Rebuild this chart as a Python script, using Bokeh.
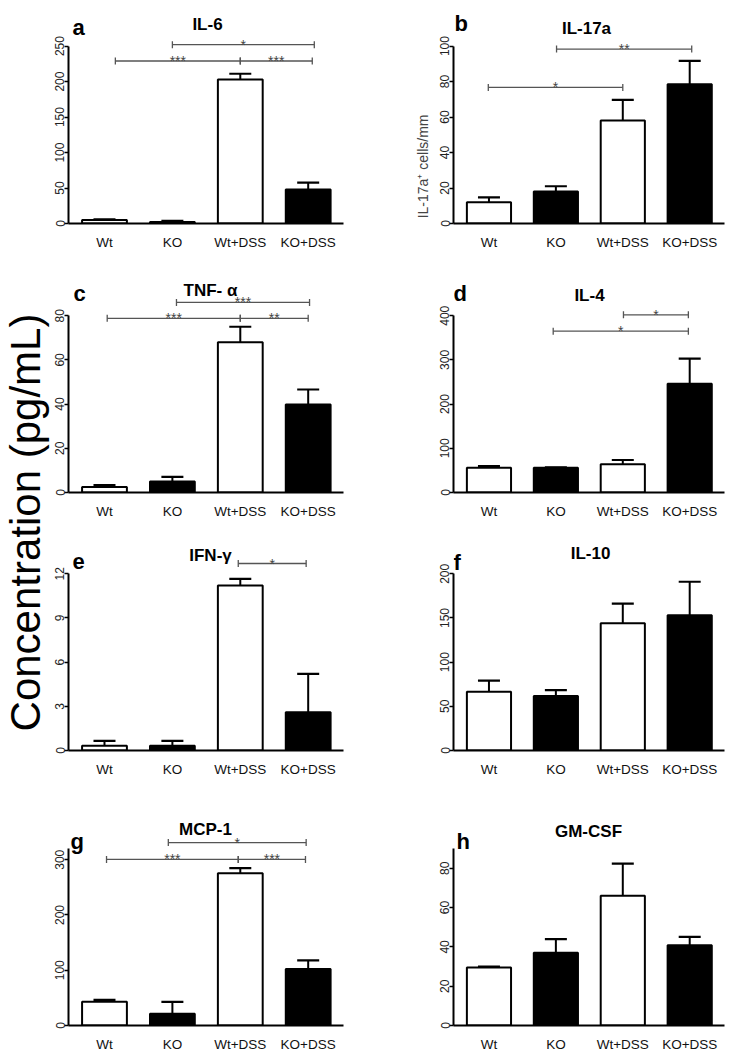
import numpy as np
from bokeh.plotting import figure
from bokeh.layouts import row, column
from bokeh.models import Range1d, FixedTicker, ColumnDataSource
from bokeh.embed import file_html
from bokeh.resources import INLINE
from bokeh.core.properties import value

# ---------------- data ----------------
groups = ["Wt", "KO", "Wt+DSS", "KO+DSS"]
group_x = [1, 2, 3, 4]
group_fill = ["white", "black", "white", "black"]

il6_mean = [5.0, 2.0, 203.0, 48.0]
il6_sem = [1.0, 1.8, 8.0, 9.5]
il6_ticks = [0, 50, 100, 150, 200, 250]
il6_br_x0 = [1.16, 3.0, 2.0]
il6_br_x1 = [3.0, 4.06, 4.09]
il6_br_y = [229, 229, 252]
il6_br_lab = ["***", "***", "*"]

il17_mean = [12.0, 18.0, 58.0, 78.5]
il17_sem = [2.7, 3.0, 11.7, 13.2]
il17_ticks = [0, 20, 40, 60, 80, 100]
il17_br_x0 = [0.99, 2.01]
il17_br_x1 = [3.0, 4.03]
il17_br_y = [76.7, 98.3]
il17_br_lab = ["*", "**"]

tnf_mean = [2.5, 5.0, 68.0, 39.8]
tnf_sem = [0.9, 2.1, 7.0, 6.8]
tnf_ticks = [0, 20, 40, 60, 80]
tnf_br_x0 = [1.04, 3.0, 2.06]
tnf_br_x1 = [3.0, 4.0, 4.02]
tnf_br_y = [78.8, 78.8, 86.0]
tnf_br_lab = ["***", "**", "***"]

il4_mean = [56.0, 56.0, 64.0, 246.0]
il4_sem = [3.5, 1.0, 9.5, 57.0]
il4_ticks = [0, 100, 200, 300, 400]
il4_br_x0 = [1.96, 3.01]
il4_br_x1 = [3.98, 3.98]
il4_br_y = [365, 402]
il4_br_lab = ["*", "*"]

ifn_mean = [0.33, 0.33, 11.2, 2.6]
ifn_sem = [0.32, 0.32, 0.45, 2.6]
ifn_ticks = [0, 3, 6, 9, 12]
ifn_br_x0 = [2.97]
ifn_br_x1 = [3.97]
ifn_br_y = [12.7]
ifn_br_lab = ["*"]

il10_mean = [66.5, 61.7, 144.0, 153.0]
il10_sem = [12.7, 6.7, 22.3, 38.0]
il10_ticks = [0, 50, 100, 150, 200]

mcp_mean = [43.0, 21.4, 275.6, 102.4]
mcp_sem = [3.5, 21.5, 9.0, 15.5]
mcp_ticks = [0, 100, 200, 300]
mcp_br_x0 = [1.03, 2.97, 1.94]
mcp_br_x1 = [2.97, 3.96, 3.97]
mcp_br_y = [300.5, 300.5, 331]
mcp_br_lab = ["***", "***", "*"]

gm_mean = [29.5, 37.0, 66.0, 40.8]
gm_sem = [0.5, 7.0, 16.4, 4.3]
gm_ticks = [0, 20, 40, 60, 80]

# ---------------- style / layout ----------------
FONT = "Liberation Sans"
X_START, X_END = 0.47, 4.52
AXIS_PX = 179
BAR_W = 0.66
CAP_PX = 22
NBSP = "\u00a0"


def make_panel(title, letter, means, sems, ticks, axis_max, br, width, height,
               b_left, b_right, b_bottom, title_pos, letter_pos, ylabel=None):
    frame_w = width - b_left - b_right
    frame_h = height - b_bottom
    ys = AXIS_PX / axis_max
    xs = frame_w / (X_END - X_START)
    y_end = frame_h / ys
    p = figure(width=width, height=height, x_range=Range1d(X_START, X_END),
               y_range=Range1d(0, y_end), output_backend="svg",
               toolbar_location=None, title=None,
               min_border_left=b_left, min_border_right=b_right,
               min_border_top=0, min_border_bottom=b_bottom)
    p.outline_line_color = None
    p.xgrid.grid_line_color = None
    p.ygrid.grid_line_color = None
    p.background_fill_color = "white"
    p.border_fill_color = "white"

    # axes
    p.xaxis.ticker = FixedTicker(ticks=group_x)
    p.xaxis.major_label_overrides = {gx: g for gx, g in zip(group_x, groups)}
    p.xaxis.major_tick_line_color = None
    p.xaxis.minor_tick_line_color = None
    p.xaxis.axis_line_width = 2
    p.xaxis.axis_line_color = "black"
    p.xaxis.major_label_text_font = FONT
    p.xaxis.major_label_text_font_size = "13.5px"
    p.xaxis.major_label_text_color = "#111111"
    p.xaxis.major_label_standoff = 5

    p.yaxis.ticker = FixedTicker(ticks=ticks)
    p.yaxis.bounds = (0, axis_max)
    p.yaxis.minor_tick_line_color = None
    p.yaxis.axis_line_width = 2
    p.yaxis.axis_line_color = "black"
    p.yaxis.major_tick_line_width = 1.5
    p.yaxis.major_tick_out = 4
    p.yaxis.major_tick_in = 0
    p.yaxis.major_label_orientation = "vertical"
    p.yaxis.major_label_standoff = 0
    p.yaxis.major_label_text_font = FONT
    p.yaxis.major_label_text_font_size = "12px"
    p.yaxis.major_label_text_color = "#222222"
    if ylabel:
        p.yaxis.axis_label = ylabel
        p.yaxis.axis_label_text_font = FONT
        p.yaxis.axis_label_text_font_style = "normal"
        p.yaxis.axis_label_text_font_size = "14px"
        p.yaxis.axis_label_standoff = 7

    # bars
    src = ColumnDataSource(dict(x=group_x, top=means, fill=group_fill,
                                err=[m + s for m, s in zip(means, sems)]))
    p.vbar(x="x", top="top", bottom=0, width=BAR_W, fill_color="fill",
           line_color="black", line_width=2, source=src)
    # error bars (upper only)
    cap = CAP_PX / xs / 2
    p.segment(x0="x", y0="top", x1="x", y1="err", line_color="black",
              line_width=2, source=src)
    p.segment(x0=[x - cap for x in group_x], y0=src.data["err"],
              x1=[x + cap for x in group_x], y1=src.data["err"],
              line_color="black", line_width=2.2)

    # significance brackets
    if br is not None:
        x0, x1, yb, lab = br
        p.segment(x0=x0, y0=yb, x1=x1, y1=yb, line_color="#555555", line_width=1.3)
        p.scatter(x=list(x0) + list(x1), y=list(yb) + list(yb), marker="dash",
                  angle=np.pi / 2, size=7, line_color="#555555", line_width=1.3)
        p.text(x=[(a + b) / 2 for a, b in zip(x0, x1)], y=yb, text=lab,
               text_align="center", text_baseline="alphabetic",
               text_font=value(FONT), text_font_size="14px", text_color="#444444")

    # title and panel letter
    tx = X_START + title_pos[0] / xs
    ty = (frame_h - title_pos[1]) / ys
    p.text(x=[tx], y=[ty], text=[title], text_align="center",
           text_baseline="alphabetic", text_font=value(FONT),
           text_font_size="17px", text_font_style="bold", text_color="black")
    lx = X_START + letter_pos[0] / xs
    ly = (frame_h - letter_pos[1]) / ys
    p.text(x=[lx], y=[ly], text=[letter], text_align="left",
           text_baseline="alphabetic", text_font=value(FONT),
           text_font_size="22px", text_font_style="bold", text_color="black")
    return p


LABW = 50
LW, LB_L, LB_R = 358, 18, 65
RW, RB_L, RB_R = 324, 45, 8
ROW_H = [252, 269, 258, 275]
ROW_BB = [27, 26, 26, 26]

pa = make_panel("IL-6", "a", il6_mean, il6_sem, il6_ticks, 250,
                (il6_br_x0, il6_br_x1, il6_br_y, il6_br_lab),
                LW, ROW_H[0], LB_L, LB_R, ROW_BB[0], (139, 24), (4, 27))
pb = make_panel("IL-17a", "b", il17_mean, il17_sem, il17_ticks, 100,
                (il17_br_x0, il17_br_x1, il17_br_y, il17_br_lab),
                RW, ROW_H[0], RB_L, RB_R, ROW_BB[0], (133, 28), (1, 23),
                ylabel="IL-17a\u207a cells/mm" + NBSP * 28)
pc = make_panel("TNF- \u03b1", "c", tnf_mean, tnf_sem, tnf_ticks, 80,
                (tnf_br_x0, tnf_br_x1, tnf_br_y, tnf_br_lab),
                LW, ROW_H[1], LB_L, LB_R, ROW_BB[1], (142, 38), (5, 42))
pd_ = make_panel("IL-4", "d", il4_mean, il4_sem, il4_ticks, 400,
                 (il4_br_x0, il4_br_x1, il4_br_y, il4_br_lab),
                 RW, ROW_H[1], RB_L, RB_R, ROW_BB[1], (136, 44), (0, 42))
pe = make_panel("IFN-\u03b3", "e", ifn_mean, ifn_sem, ifn_ticks, 12,
                (ifn_br_x0, ifn_br_x1, ifn_br_y, ifn_br_lab),
                LW, ROW_H[2], LB_L, LB_R, ROW_BB[2], (142, 34), (4, 41))
pf = make_panel("IL-10", "f", il10_mean, il10_sem, il10_ticks, 200, None,
                RW, ROW_H[2], RB_L, RB_R, ROW_BB[2], (137, 32), (0, 42))
pg = make_panel("MCP-1", "g", mcp_mean, mcp_sem, mcp_ticks, 320,
                (mcp_br_x0, mcp_br_x1, mcp_br_y, mcp_br_lab),
                LW, ROW_H[3], LB_L, LB_R, ROW_BB[3], (137, 51), (2, 63))
ph = make_panel("GM-CSF", "h", gm_mean, gm_sem, gm_ticks, 90, None,
                RW, ROW_H[3], RB_L, RB_R, ROW_BB[3], (135, 53), (3, 63))

TOTAL_H = sum(ROW_H)
lab = figure(width=LABW, height=TOTAL_H, x_range=Range1d(0, LABW),
             y_range=Range1d(0, TOTAL_H), output_backend="svg",
             toolbar_location=None, title=None, min_border=0)
lab.axis.visible = False
lab.grid.grid_line_color = None
lab.outline_line_color = None
lab.text(x=[25], y=[TOTAL_H - 522], text=["Concentration (pg/mL)"],
         angle=np.pi / 2, text_align="center", text_baseline="middle",
         text_font=value(FONT), text_font_size="42px", text_color="black")

grid = column(row(pa, pb), row(pc, pd_), row(pe, pf), row(pg, ph))
layout = row(lab, grid)

open("out.html", "w").write(file_html(layout, INLINE))
